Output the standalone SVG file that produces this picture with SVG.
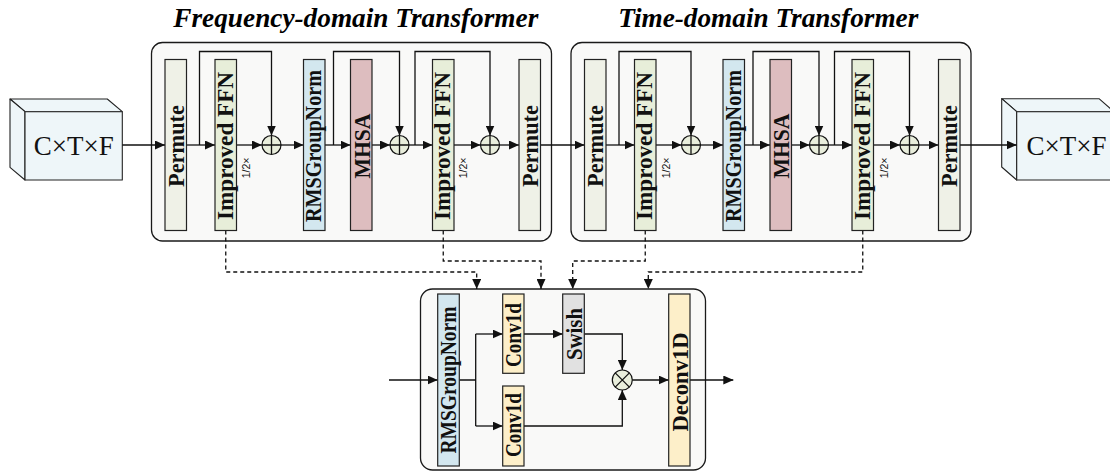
<svg xmlns="http://www.w3.org/2000/svg" width="1110" height="472" viewBox="0 0 1110 472">
<style>
.ct{fill:#f9f9f8;stroke:#1a1a1a;stroke-width:1.3}
.bar{stroke:#222;stroke-width:1.2}
.pm{fill:#eff1e7}.ffn{fill:#e7eed9}.rms{fill:#d3e7ef}.mh{fill:#ddbdbf}.cv{fill:#fdefc9}.sw{fill:#e1e1e1}
.cube{fill:#eef6f9;stroke:#222;stroke-width:1.1;stroke-linejoin:round}
.lb{font-family:"Liberation Serif","Times New Roman",serif;font-weight:bold;font-size:24px;fill:#111;text-anchor:middle}
.ttl{font-family:"Liberation Serif","Times New Roman",serif;font-weight:bold;font-style:italic;font-size:27px;fill:#000}
.cx{font-family:"Liberation Serif","Times New Roman",serif;font-size:27px;fill:#111;text-anchor:middle}
.hf{font-family:"Liberation Sans",Arial,sans-serif;font-size:10.5px;fill:#111;text-anchor:middle}
.ln{fill:none;stroke:#111;stroke-width:1.3}
.ar{fill:none;stroke:#111;stroke-width:1.3;marker-end:url(#ah)}
.da{fill:none;stroke:#111;stroke-width:1.3;stroke-dasharray:4 3;marker-end:url(#ah)}
.op{fill:#e9eedc;stroke:#111;stroke-width:1.2}
</style>
<defs>
<marker id="ah" viewBox="0 0 10 9" refX="10" refY="4.5" markerWidth="10" markerHeight="9" markerUnits="userSpaceOnUse" orient="auto">
<path d="M0,0 L10,4.5 L0,9 z" fill="#111"/>
</marker>
</defs>

<text class="ttl" x="173.3" y="27" textLength="365" lengthAdjust="spacingAndGlyphs">Frequency-domain Transformer</text>
<text class="ttl" x="618.3" y="27" textLength="300" lengthAdjust="spacingAndGlyphs">Time-domain Transformer</text>

<g id="input-cube">
<polygon class="cube" points="10,99 107.3,99 122.3,111.7 25,111.7"/>
<polygon class="cube" points="10,99 25,111.7 25,180 10,167.3"/>
<rect class="cube" x="25" y="111.7" width="97.3" height="68.3"/>
<text class="cx" x="73.7" y="154.5">C×T×F</text>
</g>

<g id="output-cube">
<polygon class="cube" points="1001.7,98.7 1099,98.7 1114,111.7 1016.7,111.7"/>
<polygon class="cube" points="1001.7,98.7 1016.7,111.7 1016.7,180 1001.7,167"/>
<rect class="cube" x="1016.7" y="111.7" width="97.3" height="68.3"/>
<text class="cx" x="1066.5" y="154.5">C×T×F</text>
</g>

<g id="freq-transformer">
<rect class="ct" x="151.5" y="42.5" width="400" height="198.5" rx="11"/>
</g>
<g id="time-transformer">
<rect class="ct" x="571" y="42.5" width="400" height="198.5" rx="11"/>
</g>
<g id="ffn-block">
<rect class="ct" x="420.5" y="289" width="285" height="181" rx="12"/>
</g>

<g id="connectors">
<line class="ar" x1="122.3" y1="145" x2="165" y2="145"/>
<line class="ar" x1="186.5" y1="145" x2="215" y2="145"/>
<line class="ar" x1="236.5" y1="145" x2="262" y2="145"/>
<line class="ar" x1="281" y1="145" x2="303.5" y2="145"/>
<line class="ar" x1="325" y1="145" x2="350.5" y2="145"/>
<line class="ar" x1="372" y1="145" x2="390" y2="145"/>
<line class="ar" x1="409" y1="145" x2="432.5" y2="145"/>
<line class="ar" x1="454" y1="145" x2="480.5" y2="145"/>
<line class="ar" x1="499.5" y1="145" x2="519" y2="145"/>
<line class="ar" x1="540.5" y1="145" x2="584.5" y2="145"/>
<line class="ar" x1="606" y1="145" x2="634.5" y2="145"/>
<line class="ar" x1="656" y1="145" x2="681.5" y2="145"/>
<line class="ar" x1="700.5" y1="145" x2="723" y2="145"/>
<line class="ar" x1="744.5" y1="145" x2="770" y2="145"/>
<line class="ar" x1="791.5" y1="145" x2="809.5" y2="145"/>
<line class="ar" x1="828.5" y1="145" x2="852" y2="145"/>
<line class="ar" x1="873.5" y1="145" x2="900" y2="145"/>
<line class="ar" x1="919" y1="145" x2="938.5" y2="145"/>
<line class="ar" x1="960" y1="145" x2="1016.7" y2="145"/>
<path class="ar" d="M199.5,145 V51.5 H271.5 V135.5"/>
<path class="ar" d="M333.5,145 V51.5 H399.5 V135.5"/>
<path class="ar" d="M415,145 V51.5 H490 V135.5"/>
<path class="ar" d="M619,145 V51.5 H691 V135.5"/>
<path class="ar" d="M753,145 V51.5 H819 V135.5"/>
<path class="ar" d="M834.5,145 V51.5 H909.5 V135.5"/>
<path class="da" d="M225.75,230.5 V272 H476.7 V289"/>
<path class="da" d="M443.25,230.5 V261 H541 V289"/>
<path class="da" d="M645.25,230.5 V261 H572.7 V289"/>
<path class="da" d="M862.75,230.5 V272 H648.3 V289"/>
<line class="ar" x1="389" y1="380" x2="437.7" y2="380"/>
<path class="ln" d="M459.3,380 H475.7 M475.7,334 V426"/>
<line class="ar" x1="475.7" y1="334" x2="502.7" y2="334"/>
<line class="ar" x1="475.7" y1="426" x2="502.7" y2="426"/>
<line class="ar" x1="524" y1="334" x2="562.7" y2="334"/>
<path class="ar" d="M584.3,334 H622.3 V370"/>
<path class="ar" d="M524,426 H622.3 V390"/>
<line class="ar" x1="632.3" y1="380" x2="668.7" y2="380"/>
<line class="ar" x1="690" y1="380" x2="733.3" y2="380"/>
</g>

<g id="freq-permute-in"><rect class="bar pm" x="165" y="59.5" width="21.5" height="171"/><text class="lb" transform="translate(183.5,146) rotate(-90)" textLength="82" lengthAdjust="spacingAndGlyphs">Permute</text></g>
<g id="freq-ffn-1"><rect class="bar ffn" x="215" y="59.5" width="21.5" height="171"/><text class="lb" transform="translate(232.5,146) rotate(-90)" textLength="148" lengthAdjust="spacingAndGlyphs">Improved FFN</text><text class="hf" transform="translate(250,168) rotate(-90)">1/2×</text></g>
<g id="freq-add-1"><circle class="op" cx="271.5" cy="145" r="9.5"/><path class="ln" d="M262,145 H281 M271.5,135.5 V154.5" stroke-width="1"/></g>
<g id="freq-rmsnorm"><rect class="bar rms" x="303.5" y="59.5" width="21.5" height="171"/><text class="lb" transform="translate(321,146) rotate(-90)" textLength="152" lengthAdjust="spacingAndGlyphs">RMSGroupNorm</text></g>
<g id="freq-mhsa"><rect class="bar mh" x="350.5" y="59.5" width="21.5" height="171"/><text class="lb" transform="translate(369.5,146) rotate(-90)" textLength="65" lengthAdjust="spacingAndGlyphs">MHSA</text></g>
<g id="freq-add-2"><circle class="op" cx="399.5" cy="145" r="9.5"/><path class="ln" d="M390,145 H409 M399.5,135.5 V154.5" stroke-width="1"/></g>
<g id="freq-ffn-2"><rect class="bar ffn" x="432.5" y="59.5" width="21.5" height="171"/><text class="lb" transform="translate(450,146) rotate(-90)" textLength="148" lengthAdjust="spacingAndGlyphs">Improved FFN</text><text class="hf" transform="translate(467,168) rotate(-90)">1/2×</text></g>
<g id="freq-add-3"><circle class="op" cx="490" cy="145" r="9.5"/><path class="ln" d="M480.5,145 H499.5 M490,135.5 V154.5" stroke-width="1"/></g>
<g id="freq-permute-out"><rect class="bar pm" x="519" y="59.5" width="21.5" height="171"/><text class="lb" transform="translate(537.5,146) rotate(-90)" textLength="82" lengthAdjust="spacingAndGlyphs">Permute</text></g>

<g id="time-permute-in"><rect class="bar pm" x="584.5" y="59.5" width="21.5" height="171"/><text class="lb" transform="translate(603,146) rotate(-90)" textLength="82" lengthAdjust="spacingAndGlyphs">Permute</text></g>
<g id="time-ffn-1"><rect class="bar ffn" x="634.5" y="59.5" width="21.5" height="171"/><text class="lb" transform="translate(652,146) rotate(-90)" textLength="148" lengthAdjust="spacingAndGlyphs">Improved FFN</text><text class="hf" transform="translate(670,168) rotate(-90)">1/2×</text></g>
<g id="time-add-1"><circle class="op" cx="691" cy="145" r="9.5"/><path class="ln" d="M681.5,145 H700.5 M691,135.5 V154.5" stroke-width="1"/></g>
<g id="time-rmsnorm"><rect class="bar rms" x="723" y="59.5" width="21.5" height="171"/><text class="lb" transform="translate(740.5,146) rotate(-90)" textLength="152" lengthAdjust="spacingAndGlyphs">RMSGroupNorm</text></g>
<g id="time-mhsa"><rect class="bar mh" x="770" y="59.5" width="21.5" height="171"/><text class="lb" transform="translate(789,146) rotate(-90)" textLength="65" lengthAdjust="spacingAndGlyphs">MHSA</text></g>
<g id="time-add-2"><circle class="op" cx="819" cy="145" r="9.5"/><path class="ln" d="M809.5,145 H828.5 M819,135.5 V154.5" stroke-width="1"/></g>
<g id="time-ffn-2"><rect class="bar ffn" x="852" y="59.5" width="21.5" height="171"/><text class="lb" transform="translate(869.5,146) rotate(-90)" textLength="148" lengthAdjust="spacingAndGlyphs">Improved FFN</text><text class="hf" transform="translate(887.5,168) rotate(-90)">1/2×</text></g>
<g id="time-add-3"><circle class="op" cx="909.5" cy="145" r="9.5"/><path class="ln" d="M900,145 H919 M909.5,135.5 V154.5" stroke-width="1"/></g>
<g id="time-permute-out"><rect class="bar pm" x="938.5" y="59.5" width="21.5" height="171"/><text class="lb" transform="translate(957,146) rotate(-90)" textLength="82" lengthAdjust="spacingAndGlyphs">Permute</text></g>

<g id="ffn-rmsnorm"><rect class="bar rms" x="437.7" y="294" width="21.6" height="172"/><text class="lb" transform="translate(455.5,380) rotate(-90)" textLength="147" lengthAdjust="spacingAndGlyphs">RMSGroupNorm</text></g>
<g id="ffn-conv-top"><rect class="bar cv" x="502.7" y="294" width="21.3" height="79.3"/><text class="lb" transform="translate(521,335) rotate(-90)" textLength="64" lengthAdjust="spacingAndGlyphs">Conv1d</text></g>
<g id="ffn-swish"><rect class="bar sw" x="562.7" y="294" width="21.6" height="79.3"/><text class="lb" transform="translate(581.5,334) rotate(-90)" textLength="52" lengthAdjust="spacingAndGlyphs">Swish</text></g>
<g id="ffn-conv-bottom"><rect class="bar cv" x="502.7" y="386" width="21.3" height="80"/><text class="lb" transform="translate(521,425) rotate(-90)" textLength="64" lengthAdjust="spacingAndGlyphs">Conv1d</text></g>
<g id="ffn-mul"><circle class="op" cx="622.3" cy="380" r="10"/><path class="ln" d="M615.2,372.9 L629.4,387.1 M629.4,372.9 L615.2,387.1" stroke-width="1"/></g>
<g id="ffn-deconv"><rect class="bar cv" x="668.7" y="294" width="21.3" height="172"/><text class="lb" transform="translate(687.5,382) rotate(-90)" textLength="99" lengthAdjust="spacingAndGlyphs">Deconv1D</text></g>
</svg>
